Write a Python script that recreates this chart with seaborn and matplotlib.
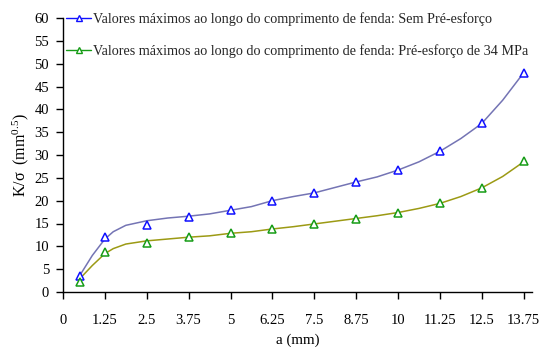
import matplotlib
matplotlib.use("Agg")
import matplotlib.pyplot as plt
from matplotlib.lines import Line2D
import numpy as np
import pandas as pd
import seaborn as sns

# Crack length (mm) and maximum K/sigma values along the crack front
a_mm = [0.5, 1.25, 2.5, 3.75, 5, 6.25, 7.5, 8.75, 10, 11.25, 12.5, 13.75]
k_sem_pre = [3.4, 12.0, 14.6, 16.4, 18.0, 19.9, 21.7, 24.0, 26.8, 30.8, 36.9, 48.0]
k_pre_34 = [2.2, 8.7, 10.7, 12.0, 12.9, 13.9, 15.0, 16.0, 17.4, 19.4, 22.7, 28.6]

# Smoothed trend curves
curve_a = [0.5, 0.875, 1.25, 1.5, 1.875, 2.5, 3.125, 3.75, 4.375, 5, 5.625,
           6.25, 6.875, 7.5, 8.125, 8.75, 9.375, 10, 10.625, 11.25, 11.875,
           12.5, 13.125, 13.75]
curve_sem_pre = [3.6, 8.0, 11.6, 13.2, 14.6, 15.6, 16.2, 16.6, 17.1, 17.9, 18.7,
                 20.0, 20.9, 21.7, 22.9, 24.1, 25.2, 26.7, 28.5, 30.8, 33.6,
                 36.9, 42.0, 48.0]
curve_pre_34 = [2.9, 5.8, 8.4, 9.5, 10.5, 11.2, 11.6, 12.0, 12.3, 12.85, 13.2,
                13.8, 14.3, 14.9, 15.5, 16.1, 16.7, 17.4, 18.3, 19.4, 20.9,
                22.8, 25.3, 28.5]

x_ticks = [0, 1.25, 2.5, 3.75, 5, 6.25, 7.5, 8.75, 10, 11.25, 12.5, 13.75]
x_tick_labels = ["0", "1.25", "2.5", "3.75", "5", "6.25", "7.5", "8.75", "10",
                 "11.25", "12.5", "13.75"]
y_ticks = list(range(0, 61, 5))

label_sem = "Valores máximos ao longo do comprimento de fenda: Sem Pré-esforço"
label_34 = "Valores máximos ao longo do comprimento de fenda: Pré-esforço de 34 MPa"

sns.set_theme(style="white")
plt.rcParams["font.family"] = ["Liberation Serif", "DejaVu Serif"]
plt.rcParams["mathtext.fontset"] = "custom"
plt.rcParams["mathtext.rm"] = "Liberation Serif"
plt.rcParams["mathtext.it"] = "Liberation Serif:italic"

fig = plt.figure(figsize=(5.46, 3.47), dpi=100)
ax = fig.add_axes([63 / 546, 55 / 347, 469 / 546, 274 / 347])

curves = pd.DataFrame({"a": curve_a, "sem": curve_sem_pre, "p34": curve_pre_34})
points = pd.DataFrame({"a": a_mm, "sem": k_sem_pre, "p34": k_pre_34})

sns.lineplot(data=curves, x="a", y="sem", ax=ax, color="#7474b4", lw=1.1,
             sort=False, legend=False)
sns.lineplot(data=curves, x="a", y="p34", ax=ax, color="#9c9a14", lw=1.1,
             sort=False, legend=False)

blue = "#1010ff"
green = "#169c16"
ax.plot(points["a"], points["sem"], ls="none", marker="^", ms=5.3,
        mfc="white", mec=blue, mew=1.1, zorder=5)
ax.plot(points["a"], points["p34"], ls="none", marker="^", ms=5.3,
        mfc="white", mec=green, mew=1.1, zorder=5)

ax.set_xlim(0, 14)
ax.set_ylim(0, 60)
ax.set_xticks(x_ticks)
ax.set_xticklabels(x_tick_labels)
ax.set_yticks(y_ticks)

for side in ("top", "right"):
    ax.spines[side].set_visible(False)
for side in ("left", "bottom"):
    ax.spines[side].set_color("black")
    ax.spines[side].set_linewidth(1.0)

ax.tick_params(axis="x", direction="out", length=5, width=1, color="black",
               pad=11, labelsize=10.5, labelcolor="black", bottom=True)
ax.tick_params(axis="y", direction="out", length=5, width=1, color="black",
               pad=5, labelsize=10.5, labelcolor="black", left=True)

ax.set_xlabel("a (mm)", fontsize=10.8, color="black")
ax.set_ylabel(r"K/σ  (mm$^{0.5}$)", fontsize=11.5, color="black")
ax.xaxis.set_label_coords(0.5, -0.15)
ax.yaxis.set_label_coords(-0.068, 0.5)

handles = [
    Line2D([], [], color=blue, lw=1.0, marker="^", ms=4.5, mfc="white",
           mec=blue, mew=1.0),
    Line2D([], [], color=green, lw=1.0, marker="^", ms=4.5, mfc="white",
           mec=green, mew=1.0),
]
ax.legend(handles, [label_sem, label_34], loc="upper left",
          bbox_to_anchor=(0.006, 1.022), frameon=False, fontsize=10.15,
          handlelength=1.8, handletextpad=0.15, labelspacing=1.34,
          borderaxespad=0.0, borderpad=0.0)

fig.savefig("out.png", dpi=100)
